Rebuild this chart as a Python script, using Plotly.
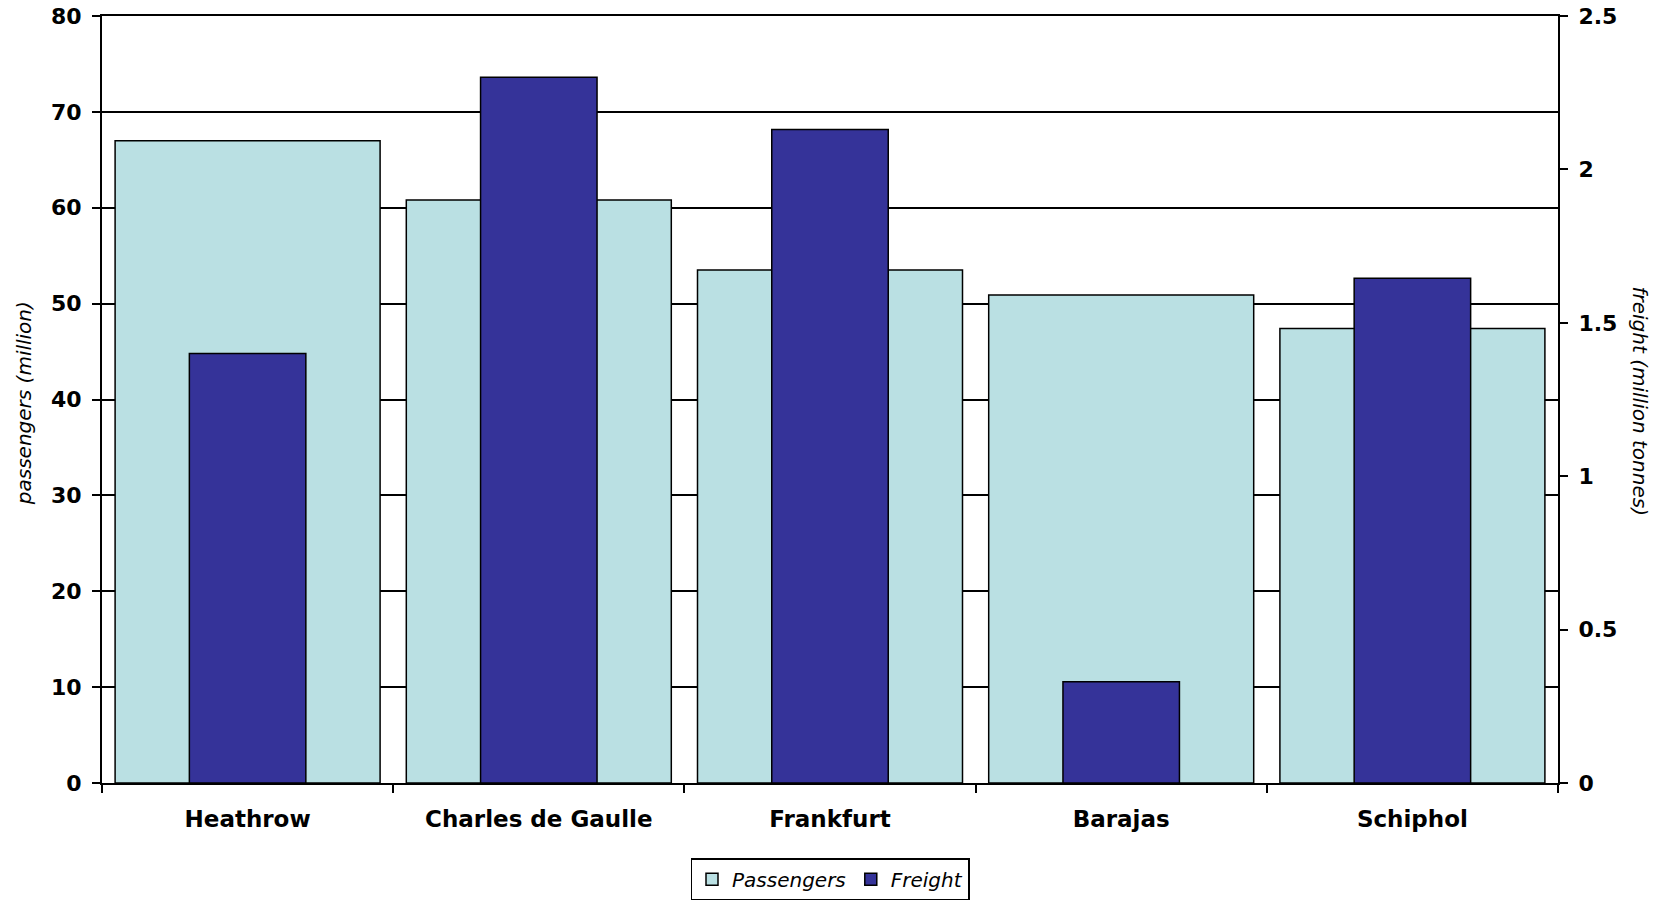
import plotly.graph_objects as go

airports = ["Heathrow", "Charles de Gaulle", "Frankfurt", "Barajas", "Schiphol"]
passengers = [67.0, 60.8, 53.5, 50.9, 47.4]
freight = [1.40, 2.30, 2.13, 0.33, 1.645]
left_ticks = [0, 10, 20, 30, 40, 50, 60, 70, 80]
right_ticks = [0, 0.5, 1, 1.5, 2, 2.5]
right_labels = ["0", "0.5", "1", "1.5", "2", "2.5"]

FONT = "DejaVu Sans"

fig = go.Figure()
fig.add_trace(go.Bar(
    x=airports, y=passengers, name="Passengers", width=0.91,
    marker=dict(color="#BAE0E3", line=dict(color="black", width=1.5)),
    yaxis="y",
))
fig.add_trace(go.Bar(
    x=airports, y=freight, name="Freight", width=0.4,
    marker=dict(color="#353399", line=dict(color="black", width=1.5)),
    yaxis="y2",
))

fig.update_layout(
    width=1667, height=900,
    margin=dict(l=102, r=109, t=16, b=117, autoexpand=False),
    paper_bgcolor="white", plot_bgcolor="white",
    barmode="overlay",
    showlegend=True,
    font=dict(family=FONT, color="black"),
    xaxis=dict(
        type="category", showline=True, linecolor="black", linewidth=2,
        mirror=True, ticks="outside", tickson="boundaries", ticklen=8,
        tickwidth=1.5, tickcolor="black", showgrid=False, automargin=False,
        tickfont=dict(family=FONT, size=23, color="black", weight="bold"),
        ticklabelstandoff=14,
    ),
    yaxis=dict(
        range=[0, 80], tickvals=left_ticks, showline=True, linecolor="black",
        linewidth=2, ticks="outside", ticklen=8, tickwidth=1.5, tickcolor="black",
        showgrid=True, gridcolor="black", gridwidth=1.5, zeroline=False,
        automargin=False,
        tickfont=dict(family=FONT, size=22, color="black", weight="bold"),
        ticklabelstandoff=6,
    ),
    yaxis2=dict(
        range=[0, 2.5], tickvals=right_ticks, ticktext=right_labels,
        overlaying="y", side="right", showline=True, linecolor="black",
        linewidth=2, ticks="outside", ticklen=8, tickwidth=1.5, tickcolor="black",
        showgrid=False, zeroline=False, automargin=False,
        tickfont=dict(family=FONT, size=22, color="black", weight="bold"),
        ticklabelstandoff=6,
    ),
    legend=dict(
        orientation="h", x=0.5, xanchor="center", y=-0.098, yanchor="top",
        bordercolor="black", borderwidth=1.5,
        font=dict(family=FONT, size=20, color="black", style="italic"),
        itemwidth=30, traceorder="normal",
    ),
    annotations=[
        dict(text="passengers (million)", xref="paper", yref="paper",
             x=-0.053, y=0.495, xanchor="center", yanchor="middle",
             textangle=-90, showarrow=False,
             font=dict(family=FONT, size=20, color="black", style="italic")),
        dict(text="freight (million tonnes)", xref="paper", yref="paper",
             x=1.056, y=0.498, xanchor="center", yanchor="middle",
             textangle=90, showarrow=False,
             font=dict(family=FONT, size=20, color="black", style="italic")),
    ],
)

fig.write_html("out.html")
